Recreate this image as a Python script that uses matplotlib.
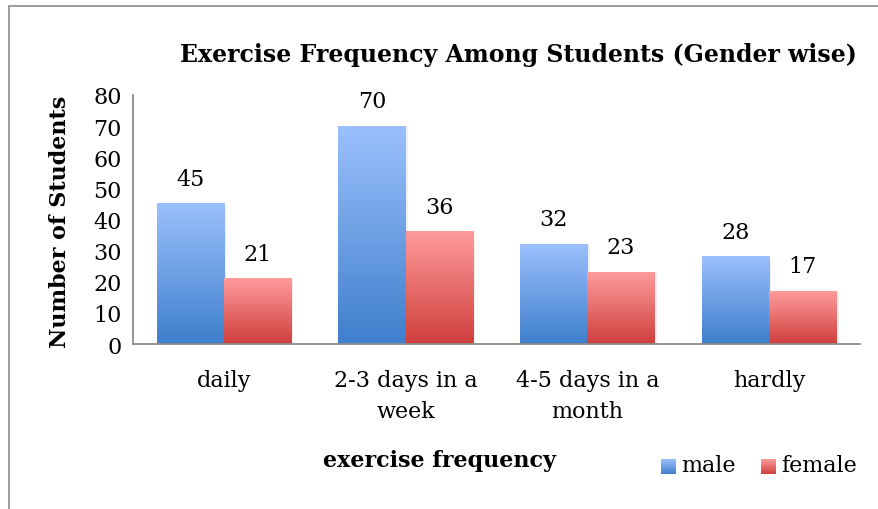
import numpy as np
import matplotlib.pyplot as plt
from matplotlib.colors import LinearSegmentedColormap
from matplotlib.patches import Rectangle

categories = ['daily', '2-3 days in a\nweek', '4-5 days in a\nmonth', 'hardly']
male = [45, 70, 32, 28]
female = [21, 36, 23, 17]
series_names = ['male', 'female']

plt.rcParams['font.family'] = ['DejaVu Serif']

# gradient colours, light at top, dark at bottom (excel style)
blue_cmap = LinearSegmentedColormap.from_list('b', ['#3f7fcc', '#9bc0fd'])
red_cmap = LinearSegmentedColormap.from_list('r', ['#cf3f3d', '#ff9b9b'])

fig = plt.figure(figsize=(8.79, 5.10), dpi=100)
ax = fig.add_axes([133/879, 1-345/510, (860-133)/879, (345-96)/510])

x = np.arange(len(categories))
w = 0.37
bars_m = ax.bar(x - w/2, male, w, color='none', label=series_names[0])
bars_f = ax.bar(x + w/2, female, w, color='none', label=series_names[1])

grad = np.linspace(0, 1, 256).reshape(-1, 1)

def fill_gradient(bars, cmap):
    for b in bars:
        x0, h, bw = b.get_x(), b.get_height(), b.get_width()
        # soft shadow
        ax.add_patch(Rectangle((x0 + 0.012, 0), bw, h - 0.3, color='#000000',
                               alpha=0.06, zorder=1, lw=0))
        ax.imshow(grad, cmap=cmap, origin='lower', aspect='auto',
                  extent=[x0, x0 + bw, 0, h], zorder=2)

fill_gradient(bars_m, blue_cmap)
fill_gradient(bars_f, red_cmap)

for bars in (bars_m, bars_f):
    for b in bars:
        ax.text(b.get_x() + b.get_width()/2, b.get_height() + 4.5, str(int(b.get_height())),
                ha='center', va='bottom', fontsize=16)

ax.set_xlim(-0.5, len(categories) - 0.5)
ax.set_ylim(0, 80)
ax.set_yticks(range(0, 81, 10))
ax.set_xticks(x)
ax.set_xticklabels(categories, fontsize=16, linespacing=1.5)
ax.tick_params(axis='y', labelsize=16, length=0, pad=8)
ax.tick_params(axis='x', length=0, pad=18)
for s in ['top', 'right']:
    ax.spines[s].set_visible(False)
for s in ['left', 'bottom']:
    ax.spines[s].set_color('#8c8c8c')
    ax.spines[s].set_linewidth(1.3)

fig.text(518/879, 1-55/510, 'Exercise Frequency Among Students (Gender wise)',
         ha='center', va='center', fontsize=17, fontweight='bold')
fig.text(60/879, 1-222/510, 'Number of Students', rotation=90,
         ha='center', va='center', fontsize=16, fontweight='bold')
fig.text(440/879, 1-461/510, 'exercise frequency',
         ha='center', va='center', fontsize=16, fontweight='bold')

# legend with gradient squares
for i, (name, cmap) in enumerate(zip(series_names, [blue_cmap, red_cmap])):
    lx = [661, 761][i]
    lax = fig.add_axes([lx/879, 1-475/510, 15/879, 15/510])
    lax.imshow(grad, cmap=cmap, origin='lower', aspect='auto')
    lax.axis('off')
    fig.text((lx + 20)/879, 1-466/510, name, ha='left', va='center', fontsize=16)

# chart border
fig.add_artist(Rectangle((9/879, -0.05), 1.0, 1-7/510 + 0.05, transform=fig.transFigure,
                         fill=False, edgecolor='#8c8c8c', lw=1.2))

fig.savefig('out.png', dpi=100)
